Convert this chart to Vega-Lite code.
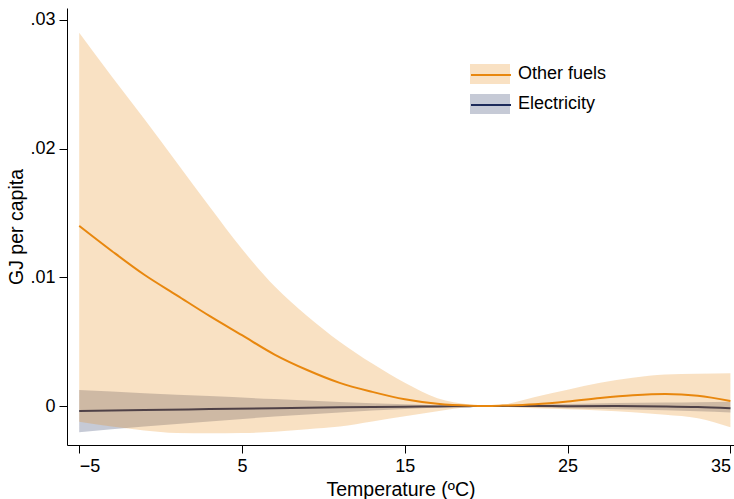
{
  "$schema": "https://vega.github.io/schema/vega-lite/v6.json",
  "width": 667,
  "height": 437,
  "autosize": {"type": "none"},
  "padding": {"left": 67, "top": 8, "right": 0, "bottom": 54},
  "background": "white",
  "config": {
    "view": {"stroke": null},
    "font": "Liberation Sans",
    "axis": {
      "grid": false,
      "domainColor": "black",
      "domainWidth": 1,
      "tickColor": "black",
      "tickWidth": 1,
      "tickSize": 8,
      "labelFont": "Liberation Sans",
      "labelFontSize": 18,
      "labelColor": "black",
      "titleFont": "Liberation Sans",
      "titleFontSize": 19.5,
      "titleFontWeight": "normal",
      "titleColor": "black"
    }
  },
  "data": {
    "values": [
      {"T": -5, "s": "Other fuels", "est": 0.0140, "lo": -0.00122, "hi": 0.0290},
      {"T": -3, "s": "Other fuels", "est": 0.01205, "lo": -0.0016, "hi": 0.0256},
      {"T": -1, "s": "Other fuels", "est": 0.0102, "lo": -0.0019, "hi": 0.0223},
      {"T": 1, "s": "Other fuels", "est": 0.0086, "lo": -0.0021, "hi": 0.0189},
      {"T": 3, "s": "Other fuels", "est": 0.0070, "lo": -0.00212, "hi": 0.0155},
      {"T": 5, "s": "Other fuels", "est": 0.0055, "lo": -0.0021, "hi": 0.0122},
      {"T": 7, "s": "Other fuels", "est": 0.0040, "lo": -0.0020, "hi": 0.0093},
      {"T": 9, "s": "Other fuels", "est": 0.0028, "lo": -0.0018, "hi": 0.0070},
      {"T": 11, "s": "Other fuels", "est": 0.0018, "lo": -0.0016, "hi": 0.0050},
      {"T": 13, "s": "Other fuels", "est": 0.0011, "lo": -0.0012, "hi": 0.0033},
      {"T": 15, "s": "Other fuels", "est": 0.00052, "lo": -0.0008, "hi": 0.0018},
      {"T": 17, "s": "Other fuels", "est": 0.00017, "lo": -0.0004, "hi": 0.0006},
      {"T": 19, "s": "Other fuels", "est": 0.00002, "lo": -0.00008, "hi": 0.00012},
      {"T": 20, "s": "Other fuels", "est": 0, "lo": 0, "hi": 0},
      {"T": 21, "s": "Other fuels", "est": 0.00003, "lo": -0.00005, "hi": 0.0001},
      {"T": 23, "s": "Other fuels", "est": 0.00014, "lo": -0.00018, "hi": 0.0007},
      {"T": 25, "s": "Other fuels", "est": 0.00035, "lo": -0.00026, "hi": 0.00127},
      {"T": 27, "s": "Other fuels", "est": 0.00062, "lo": -0.00035, "hi": 0.0018},
      {"T": 29, "s": "Other fuels", "est": 0.00083, "lo": -0.00048, "hi": 0.0022},
      {"T": 31, "s": "Other fuels", "est": 0.00093, "lo": -0.00068, "hi": 0.00245},
      {"T": 33, "s": "Other fuels", "est": 0.0008, "lo": -0.00095, "hi": 0.0025},
      {"T": 35, "s": "Other fuels", "est": 0.00039, "lo": -0.00166, "hi": 0.00254},
      {"T": -5, "s": "Electricity", "est": -0.00039, "lo": -0.00204, "hi": 0.00124},
      {"T": -1, "s": "Electricity", "est": -0.00031, "lo": -0.0016, "hi": 0.0010},
      {"T": 3, "s": "Electricity", "est": -0.00024, "lo": -0.0012, "hi": 0.00077},
      {"T": 7, "s": "Electricity", "est": -0.00017, "lo": -0.00082, "hi": 0.00054},
      {"T": 11, "s": "Electricity", "est": -0.0001, "lo": -0.0005, "hi": 0.00032},
      {"T": 15, "s": "Electricity", "est": -0.00005, "lo": -0.00024, "hi": 0.00013},
      {"T": 17, "s": "Electricity", "est": -0.00003, "lo": -0.00012, "hi": 0.00006},
      {"T": 19, "s": "Electricity", "est": -0.00001, "lo": -0.00003, "hi": 0.00001},
      {"T": 20, "s": "Electricity", "est": 0, "lo": 0, "hi": 0},
      {"T": 21, "s": "Electricity", "est": 0, "lo": -0.00003, "hi": 0.00003},
      {"T": 23, "s": "Electricity", "est": 0, "lo": -0.0001, "hi": 0.0001},
      {"T": 25, "s": "Electricity", "est": -0.00001, "lo": -0.00017, "hi": 0.00016},
      {"T": 28, "s": "Electricity", "est": 0, "lo": -0.00026, "hi": 0.00024},
      {"T": 31, "s": "Electricity", "est": -0.00003, "lo": -0.00033, "hi": 0.00028},
      {"T": 33, "s": "Electricity", "est": -0.00008, "lo": -0.0004, "hi": 0.0003},
      {"T": 35, "s": "Electricity", "est": -0.00018, "lo": -0.0005, "hi": 0.00033}
    ]
  },
  "encoding": {
    "x": {
      "field": "T",
      "type": "quantitative",
      "scale": {"domain": [-5.75, 35.22], "nice": false, "zero": false},
      "axis": {
        "title": "Temperature (ºC)",
        "values": [-5, 5, 15, 25, 35],
        "labelAlign": {
          "condition": [
            {"test": "datum.value == 35", "value": "right"},
            {"test": "datum.value == -5", "value": "left"}
          ],
          "value": "center"
        },
        "labelPadding": 4,
        "titlePadding": 5
      }
    }
  },
  "layer": [
    {
      "transform": [{"filter": "datum.s == 'Electricity'"}],
      "mark": {"type": "area", "interpolate": "monotone", "opacity": 0.25, "clip": true},
      "encoding": {
        "y": {
          "field": "lo",
          "type": "quantitative",
          "scale": {"domain": [-0.00303, 0.03093], "nice": false, "zero": false},
          "axis": {
            "title": "GJ per capita",
            "values": [0, 0.01, 0.02, 0.03],
            "labelExpr": "datum.value == 0 ? '0' : replace(format(datum.value, '.2f'), '0.', '.')",
            "labelPadding": 4,
            "titlePadding": 3
          }
        },
        "y2": {"field": "hi"},
        "fill": {
          "field": "s",
          "type": "nominal",
          "scale": {"domain": ["Other fuels", "Electricity"], "range": ["#e8870e", "#1c2a5a"]},
          "legend": {
            "orient": "none",
            "legendX": 413,
            "legendY": 56,
            "title": null,
            "padding": 0,
            "symbolType": "M-2,-1H2V1H-2Z",
            "symbolSize": 400,
            "symbolOpacity": 0.25,
            "symbolStrokeWidth": 0,
            "labelFont": "Liberation Sans",
            "labelFontSize": 18,
            "labelColor": "black",
            "labelOffset": 18,
            "rowPadding": 10
          }
        }
      }
    },
    {
      "transform": [{"filter": "datum.s == 'Electricity'"}],
      "mark": {"type": "line", "interpolate": "monotone", "strokeWidth": 2, "clip": true},
      "encoding": {
        "y": {"field": "est", "type": "quantitative"},
        "stroke": {
          "field": "s",
          "type": "nominal",
          "scale": {"range": ["#1c2a5a", "#e8870e"]},
          "legend": {
            "orient": "none",
            "legendX": 413,
            "legendY": 56,
            "title": null,
            "padding": 0,
            "values": ["Other fuels", "Electricity"],
            "symbolType": "M-2,0H2",
            "symbolSize": 400,
            "symbolStrokeWidth": 2,
            "labelExpr": "''",
            "labelFont": "Liberation Sans",
            "labelFontSize": 18,
            "labelColor": "black",
            "labelOffset": 18,
            "rowPadding": 10
          }
        }
      }
    },
    {
      "transform": [{"filter": "datum.s == 'Other fuels'"}],
      "mark": {"type": "area", "interpolate": "monotone", "opacity": 0.25, "clip": true},
      "encoding": {
        "y": {"field": "lo", "type": "quantitative"},
        "y2": {"field": "hi"},
        "fill": {"field": "s", "type": "nominal"}
      }
    },
    {
      "data": {"values": [{"zero": 0}]},
      "mark": {"type": "rule", "color": "#d9435f", "strokeWidth": 1},
      "encoding": {"y": {"field": "zero", "type": "quantitative"}}
    },
    {
      "transform": [{"filter": "datum.s == 'Other fuels'"}],
      "mark": {"type": "line", "interpolate": "monotone", "strokeWidth": 2, "clip": true},
      "encoding": {
        "y": {"field": "est", "type": "quantitative"},
        "stroke": {"field": "s", "type": "nominal"}
      }
    }
  ]
}
